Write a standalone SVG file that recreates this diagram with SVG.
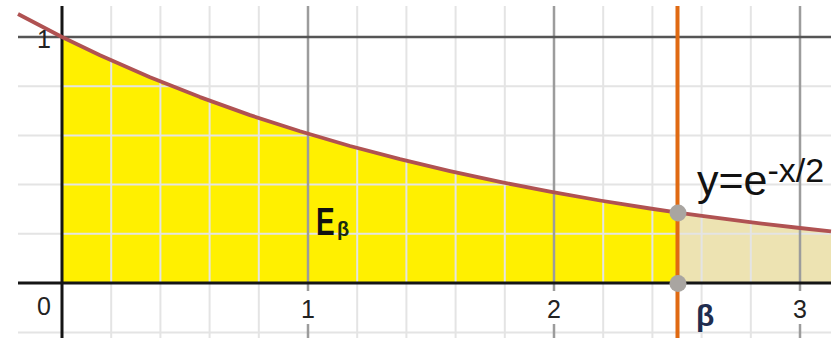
<svg xmlns="http://www.w3.org/2000/svg" width="840" height="338" viewBox="0 0 840 338">
<style>
.minor{stroke:#e4e4e4;stroke-width:2;fill:none}
.majv{stroke:#9c9c9c;stroke-width:2.5;fill:none}
.axis{stroke:#151515;stroke-width:3;fill:none}
.lbl{font-family:"Liberation Sans",Arial,sans-serif;font-size:25px;fill:#222}
</style>
<rect width="840" height="338" fill="#ffffff"/>
<g id="fills">
<polygon fill="#FFF000" points="62,283 62,37 100,55.3 150,77.2 200,97.1 250,115.1 300,131.3 350,146 400,159.2 450,171.1 500,181.9 550,191.7 600,200.5 650,208.5 678,212.6 678,283"/>
<polygon fill="#EDE3B2" points="678,283 678,212.6 700,215.7 750,222.2 800,228 831,231.4 831,283"/>
</g>
<g id="grid">
<path class="minor" d="M111.2 6V338M160.4 6V338M209.6 6V338M258.8 6V338M357.2 6V338M406.4 6V338M455.6 6V338M504.8 6V338M603.2 6V338M652.4 6V338M701.6 6V338M750.8 6V338"/>
<path class="minor" d="M18 233.8H831M18 184.6H831M18 135.4H831M18 86.2H831M18 332.5H831"/>
<path class="majv" d="M308 6V291M308 324V338M554 6V291M554 324V338M800 6V291M800 324V338"/>
<path d="M18 37H831" stroke="#555" stroke-width="2.5"/>
</g>
<g id="axes">
<path class="axis" d="M62 6V338M18 283H831"/>
</g>
<g id="curve">
<polyline fill="none" stroke="#B05252" stroke-width="3.8" stroke-linejoin="round" points="18,14 62,37 100,55.3 150,77.2 200,97.1 250,115.1 300,131.3 350,146 400,159.2 450,171.1 500,181.9 550,191.7 600,200.5 650,208.5 678,212.6 700,215.7 750,222.2 800,228 831,231.4"/>
</g>
<g id="beta-line">
<path d="M677.5 6V338" stroke="#E06A12" stroke-width="4"/>
</g>
<g id="points">
<circle cx="678" cy="213" r="8.5" fill="#A9A5A1"/>
<circle cx="678" cy="283.5" r="8.5" fill="#A9A5A1"/>
</g>
<g id="labels">
<text class="lbl" x="44" y="48" text-anchor="middle">1</text>
<text class="lbl" x="44" y="315" text-anchor="middle">0</text>
<text class="lbl" x="308" y="318" text-anchor="middle">1</text>
<text class="lbl" x="554" y="318" text-anchor="middle">2</text>
<text class="lbl" x="800" y="318" text-anchor="middle">3</text>
<text transform="translate(316,235) scale(1,1.4)" font-family="'Liberation Sans',Arial,sans-serif" font-weight="bold" font-size="28" fill="#111">E</text>
<text x="337" y="236" font-family="'Liberation Sans',Arial,sans-serif" font-weight="bold" font-size="20" fill="#1a2a10">β</text>
<text x="697" y="195" font-family="'Liberation Sans',Arial,sans-serif" font-size="43" fill="#111">y=e<tspan font-size="34" dy="-13">-x/2</tspan></text>
<text x="696" y="326" font-family="'Liberation Sans',Arial,sans-serif" font-weight="bold" font-size="30" fill="#1f2d4f">β</text>
</g>
</svg>
